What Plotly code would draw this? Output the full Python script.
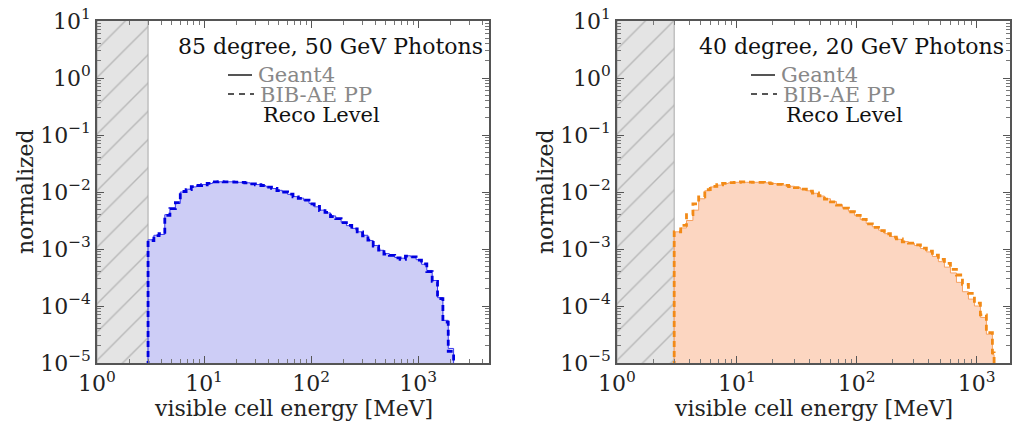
import math
import plotly.graph_objects as go

# ---------------- data ----------------
edges_left = [3.0, 3.4, 3.8, 4.3, 4.8, 5.4, 6.0, 6.8, 7.6, 8.5, 9.5, 10.7, 12.0, 13.5, 15.1,
              17.0, 19.0, 21.4, 24.0, 27.0, 30.2, 34.0, 38.0, 42.7, 48.0, 53.8, 60.4, 67.8,
              76.0, 85.3, 95.7, 107, 120, 135, 152, 170, 191, 214, 240, 270, 303, 340, 381,
              428, 480, 539, 605, 679, 762, 855, 959, 1076, 1207, 1355, 1520, 1706, 1914, 2148]
g4_left = [1.45e-3, 1.74e-3, 1.8e-3, 4.0e-3, 5.0e-3, 6.3e-3, 1.0e-2, 1.12e-2, 1.23e-2, 1.29e-2,
           1.35e-2, 1.41e-2, 1.48e-2, 1.51e-2, 1.51e-2, 1.51e-2, 1.48e-2, 1.48e-2, 1.45e-2, 1.38e-2,
           1.35e-2, 1.29e-2, 1.23e-2, 1.15e-2, 1.07e-2, 1.0e-2, 9.1e-3, 8.3e-3, 7.8e-3, 7.1e-3,
           6.3e-3, 5.5e-3, 4.8e-3, 4.3e-3, 3.8e-3, 3.4e-3, 2.95e-3, 2.57e-3, 2.3e-3, 2.0e-3,
           1.74e-3, 1.41e-3, 1.15e-3, 9.5e-4, 8.3e-4, 7.6e-4, 7.1e-4, 6.9e-4, 7.6e-4, 7.2e-4,
           6.5e-4, 5.4e-4, 4.2e-4, 2.8e-4, 1.4e-4, 5.6e-5, 1.8e-5]
bib_left = [1.4e-3, 1.72e-3, 1.85e-3, 3.9e-3, 5.1e-3, 6.5e-3, 1.02e-2, 1.1e-2, 1.24e-2, 1.3e-2,
            1.34e-2, 1.42e-2, 1.5e-2, 1.52e-2, 1.5e-2, 1.5e-2, 1.49e-2, 1.47e-2, 1.44e-2, 1.39e-2,
            1.34e-2, 1.3e-2, 1.22e-2, 1.16e-2, 1.06e-2, 1.0e-2, 9.2e-3, 8.2e-3, 7.7e-3, 7.2e-3,
            6.2e-3, 5.6e-3, 4.7e-3, 4.4e-3, 3.7e-3, 3.4e-3, 2.9e-3, 2.6e-3, 2.25e-3, 2.0e-3,
            1.7e-3, 1.43e-3, 1.12e-3, 9.6e-4, 8.1e-4, 7.7e-4, 7.0e-4, 6.6e-4, 7.5e-4, 7.3e-4,
            6.4e-4, 5.5e-4, 4.0e-4, 2.7e-4, 1.35e-4, 5.2e-5, 1.6e-5]

edges_right = [3.0, 3.4, 3.8, 4.3, 4.8, 5.4, 6.0, 6.8, 7.6, 8.5, 9.5, 10.7, 12.0, 13.5, 15.1,
               17.0, 19.0, 21.4, 24.0, 27.0, 30.2, 34.0, 38.0, 42.7, 48.0, 53.8, 60.4, 67.8,
               76.0, 85.3, 95.7, 107, 120, 135, 152, 170, 191, 214, 240, 270, 303, 340, 381,
               428, 480, 539, 605, 679, 762, 855, 959, 1076, 1207, 1355, 1400]
g4_right = [2.0e-3, 2.34e-3, 3.16e-3, 4.8e-3, 7.6e-3, 1.05e-2, 1.23e-2, 1.32e-2, 1.41e-2, 1.45e-2,
            1.48e-2, 1.48e-2, 1.48e-2, 1.48e-2, 1.48e-2, 1.45e-2, 1.41e-2, 1.35e-2, 1.32e-2, 1.26e-2,
            1.2e-2, 1.12e-2, 1.05e-2, 9.5e-3, 8.5e-3, 7.6e-3, 6.8e-3, 6.0e-3, 5.2e-3, 4.6e-3,
            3.9e-3, 3.3e-3, 2.8e-3, 2.45e-3, 2.14e-3, 1.86e-3, 1.66e-3, 1.48e-3, 1.35e-3, 1.26e-3,
            1.15e-3, 1.02e-3, 8.9e-4, 7.4e-4, 6.0e-4, 4.8e-4, 3.8e-4, 2.6e-4, 1.78e-4, 1.32e-4,
            1.0e-4, 6.3e-5, 3.2e-5, 1.4e-5]
bib_right = [2.0e-3, 2.6e-3, 4.0e-3, 6.2e-3, 8.2e-3, 1.1e-2, 1.26e-2, 1.34e-2, 1.42e-2, 1.46e-2,
             1.48e-2, 1.5e-2, 1.49e-2, 1.47e-2, 1.47e-2, 1.44e-2, 1.4e-2, 1.36e-2, 1.31e-2, 1.25e-2,
             1.19e-2, 1.12e-2, 1.04e-2, 9.6e-3, 8.6e-3, 7.5e-3, 6.7e-3, 5.9e-3, 5.2e-3, 4.5e-3,
             3.9e-3, 3.3e-3, 2.75e-3, 2.4e-3, 2.1e-3, 1.85e-3, 1.62e-3, 1.5e-3, 1.33e-3, 1.27e-3,
             1.18e-3, 1.04e-3, 9.2e-4, 7.8e-4, 6.6e-4, 5.6e-4, 4.4e-4, 3.5e-4, 2.4e-4, 1.66e-4,
             1.12e-4, 7.0e-5, 3.4e-5, 1.5e-5]

titles = ["85 degree, 50 GeV Photons", "40 degree, 20 GeV Photons"]
legend_labels = ["Geant4", "BIB-AE PP", "Reco Level"]
cut_energy = 3.0
x_tick_vals = [1, 10, 100, 1000]
x_tick_text = ["10<sup>0</sup>", "10<sup>1</sup>", "10<sup>2</sup>", "10<sup>3</sup>"]
y_tick_vals = [1e-5, 1e-4, 1e-3, 1e-2, 1e-1, 1, 10]
y_tick_text = ["10<sup>−5</sup>", "10<sup>−4</sup>", "10<sup>−3</sup>", "10<sup>−2</sup>",
               "10<sup>−1</sup>", "10<sup>0</sup>", "10<sup>1</sup>"]
x_label = "visible cell energy [MeV]"
y_label = "normalized"

# ---------------- styling ----------------
FONT = "'DejaVu Serif'"
W, H = 1012, 429
panels = [
    dict(edges=edges_left, g4=g4_left, bib=bib_left, fill="#cdcdf6", line="#0000e0",
         outline="#3a3af0", xmax=4600, px=(97, 489)),
    dict(edges=edges_right, g4=g4_right, bib=bib_right, fill="#fcd6c1", line="#f28a17",
         outline="#f7a060", xmax=1900, px=(617, 1010)),
]
py = (21, 363)
FLOOR = 1e-7


def step(edges, vals):
    xs = [edges[0]]
    ys = [FLOOR]
    for e, v in zip(edges[:-1], vals):
        xs.append(e)
        ys.append(v)
    xs += [edges[-1], edges[-1]]
    ys += [vals[-1], FLOOR]
    return xs, ys


fig = go.Figure()
minor_vals = [m * 10 ** k for k in range(-6, 4) for m in range(2, 10)]

for i, p in enumerate(panels):
    xa = "x" if i == 0 else "x2"
    ya = "y" if i == 0 else "y2"
    # hatched excluded region
    fig.add_trace(go.Scatter(
        x=[1, cut_energy, cut_energy, 1, 1], y=[FLOOR, FLOOR, 100, 100, FLOOR],
        mode="lines", fill="toself", line=dict(color="#a8a8a8", width=1),
        fillcolor="#e4e4e4",
        fillpattern=dict(shape="/", bgcolor="#e4e4e4", fgcolor="#8c8c8c", size=20, solidity=0.07),
        hoverinfo="skip", showlegend=False, xaxis=xa, yaxis=ya))
    xs, ys = step(p["edges"], p["g4"])
    fig.add_trace(go.Scatter(x=xs, y=ys, mode="lines", line=dict(color=p["outline"], width=1, shape="hv"),
                             fill="toself", fillcolor=p["fill"], name="Geant4",
                             showlegend=False, xaxis=xa, yaxis=ya))
    xb, yb = step(p["edges"], p["bib"])
    fig.add_trace(go.Scatter(x=xb, y=yb, mode="lines",
                             line=dict(color=p["line"], width=2.8, dash="6px,4px", shape="hv"),
                             name="BIB-AE PP", showlegend=False, xaxis=xa, yaxis=ya))

    x0, x1 = p["px"]
    axis_common = dict(showline=True, linecolor="#555555", linewidth=1.5, mirror="ticks",
                       ticks="inside", ticklen=7, tickwidth=1, tickcolor="#555555",
                       showgrid=False, zeroline=False, type="log", automargin=False,
                       tickfont=dict(family=FONT, size=22, color="#222222"),
                       minor=dict(ticks="inside", ticklen=4, tickwidth=1, tickcolor="#777777",
                                  tickmode="array", tickvals=minor_vals, showgrid=False))
    fig.update_layout(**{
        ("xaxis" if i == 0 else "xaxis2"): dict(
            axis_common, domain=[x0 / W, x1 / W], range=[0, math.log10(p["xmax"])],
            tickmode="array", tickvals=x_tick_vals, ticktext=x_tick_text,
            anchor=ya),
        ("yaxis" if i == 0 else "yaxis2"): dict(
            axis_common, domain=[1 - py[1] / H, 1 - py[0] / H], range=[-5, 1],
            tickmode="array", tickvals=y_tick_vals, ticktext=y_tick_text,
            anchor=xa),
    })

    # axis titles
    fig.add_annotation(text=x_label, xref="paper", yref="paper", x=(x0 + x1) / 2 / W,
                       y=1 - 408 / H, showarrow=False, xanchor="center", yanchor="middle",
                       font=dict(family=FONT, size=22, color="#222222"))
    fig.add_annotation(text=y_label, xref="paper", yref="paper", x=(x0 - 71) / W,
                       y=1 - 192 / H, showarrow=False, textangle=-90, xanchor="center",
                       yanchor="middle", font=dict(family=FONT, size=22, color="#222222"))
    # panel title
    fig.add_annotation(text=titles[i], xref="paper", yref="paper", x=(x1 - 4) / W,
                       y=1 - 47 / H, showarrow=False, xanchor="right", yanchor="middle",
                       font=dict(family=FONT, size=22, color="#111111"))
    # legend block
    lx = x0 + 131 if i == 0 else x0 + 134
    fig.add_shape(type="line", xref="paper", yref="paper", x0=lx / W, x1=(lx + 24) / W,
                  y0=1 - 75 / H, y1=1 - 75 / H, line=dict(color="#555555", width=2))
    fig.add_shape(type="line", xref="paper", yref="paper", x0=lx / W, x1=(lx + 26) / W,
                  y0=1 - 94 / H, y1=1 - 94 / H, line=dict(color="#555555", width=2, dash="6px,5px"))
    fig.add_annotation(text=legend_labels[0], xref="paper", yref="paper", x=(lx + 28) / W,
                       y=1 - 75 / H, showarrow=False, xanchor="left", yanchor="middle",
                       font=dict(family=FONT, size=21, color="#888888"))
    fig.add_annotation(text=legend_labels[1], xref="paper", yref="paper", x=(lx + 30) / W,
                       y=1 - 95 / H, showarrow=False, xanchor="left", yanchor="middle",
                       font=dict(family=FONT, size=21, color="#888888"))
    fig.add_annotation(text=legend_labels[2], xref="paper", yref="paper", x=(lx + 33) / W,
                       y=1 - 115 / H, showarrow=False, xanchor="left", yanchor="middle",
                       font=dict(family=FONT, size=21, color="#111111"))

fig.update_layout(width=W, height=H, margin=dict(l=0, r=0, t=0, b=0),
                  paper_bgcolor="white", plot_bgcolor="white", showlegend=False)
fig.write_html("out.html")
